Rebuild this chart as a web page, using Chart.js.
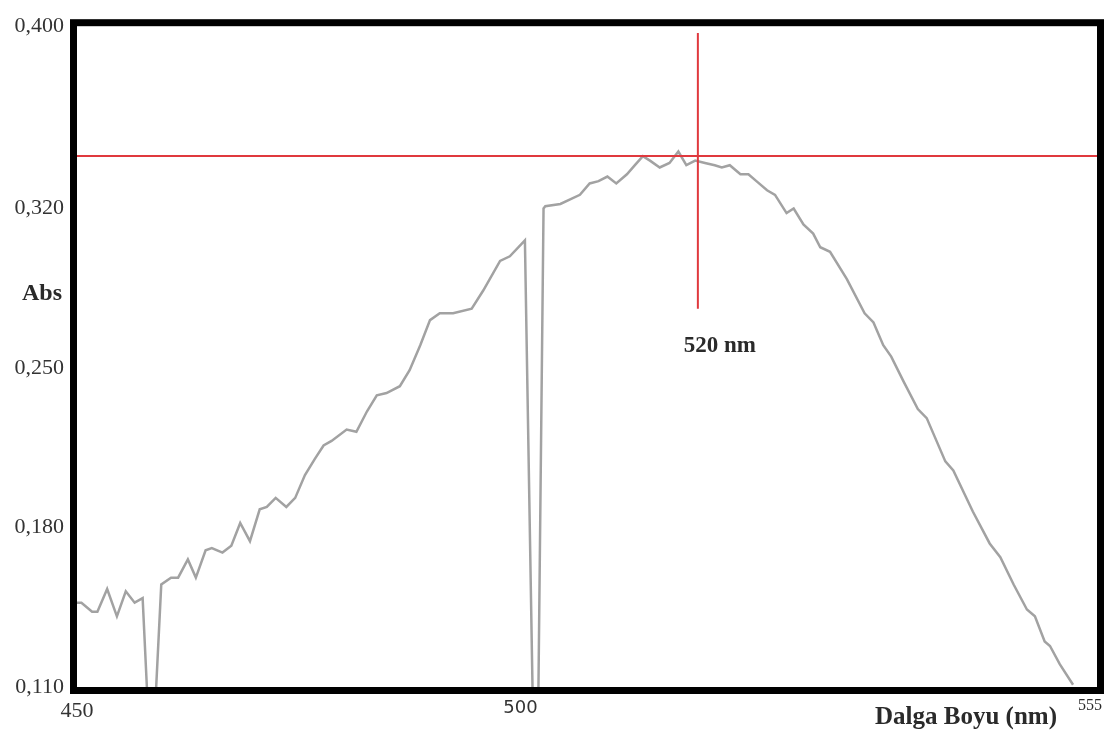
<!DOCTYPE html>
<html lang="tr">
  <head>
    <meta charset="UTF-8" />
    <title>Absorbans spektrumu</title>
    <script src="https://cdn.jsdelivr.net/npm/chart.js"></script>
    <style>
      body {
        margin: 0;
        background: #fff;
      }
      #spectrum {
        display: block;
      }
    </style>
  </head>
  <body>
    <canvas id="spectrum" width="1115" height="742"></canvas>

    <script>
      // Scan data: wavelength (nm) and absorbance
      const wavelengths = [
        450.0, 450.5, 451.7, 452.3, 453.4, 454.5, 455.5, 456.5, 457.4, 458.0,
        458.8, 459.5, 460.6, 461.4, 462.5, 463.4, 464.5, 465.2, 466.4, 467.4,
        468.4, 469.5, 470.6, 471.4, 472.4, 473.6, 474.6, 475.7, 476.8, 477.8,
        478.7, 480.4, 481.5, 482.7, 483.8, 484.9, 486.4, 487.5, 488.7, 489.8,
        490.9, 492.4, 494.5, 495.8, 497.7, 498.8, 500.5, 501.4, 502.0, 502.6,
        502.8, 504.5, 505.6, 506.7, 507.8, 508.8, 509.8, 510.8, 512.0, 512.9,
        513.8, 514.6, 515.7, 516.8, 517.8, 518.7, 519.7, 520.8, 521.9, 522.7,
        523.6, 524.8, 525.7, 526.6, 527.8, 528.7, 530.0, 530.8, 531.9, 533.0,
        533.8, 534.9, 536.8, 538.8, 539.8, 540.9, 541.8, 543.2, 544.8, 545.8,
        547.9, 548.8, 551.0, 552.9, 554.1, 555.6, 557.1, 558.0, 559.1, 559.7,
        560.8, 562.3,
      ];
      const absorbance = [
        0.147, 0.147, 0.143, 0.143, 0.153, 0.141, 0.152, 0.147, 0.149, 0.100,
        0.100, 0.155, 0.158, 0.158, 0.166, 0.158, 0.170, 0.171, 0.169, 0.172,
        0.182, 0.174, 0.188, 0.189, 0.193, 0.189, 0.193, 0.203, 0.210, 0.216,
        0.218, 0.223, 0.222, 0.231, 0.238, 0.239, 0.242, 0.249, 0.260, 0.271,
        0.274, 0.274, 0.276, 0.284, 0.297, 0.299, 0.306, 0.100, 0.100, 0.320,
        0.321, 0.322, 0.324, 0.326, 0.331, 0.332, 0.334, 0.331, 0.335, 0.339,
        0.343, 0.341, 0.338, 0.340, 0.345, 0.339, 0.341, 0.340, 0.339, 0.338,
        0.339, 0.335, 0.335, 0.332, 0.328, 0.326, 0.318, 0.320, 0.313, 0.309,
        0.303, 0.301, 0.289, 0.274, 0.270, 0.260, 0.255, 0.244, 0.232, 0.228,
        0.209, 0.205, 0.187, 0.173, 0.167, 0.155, 0.144, 0.141, 0.130, 0.128,
        0.120, 0.111,
      ];

      // Axis ranges and tick labels
      const xRange = [450, 565];
      const xTickValues = [450, 500];
      const xAxisEndLabel = "555";
      const yRange = [0.11, 0.4];
      const yTickValues = [0.11, 0.18, 0.25, 0.32, 0.4];

      // Peak marker (cross-hair)
      const peakWavelength = 520;
      const peakAbsorbance = 0.343;
      const markerTop = 0.397;
      const markerBottom = 0.276;
      const peakLabel = "520 nm";

      const spectrum = wavelengths.map((w, i) => ({ x: w, y: absorbance[i] }));
      const hLine = [
        { x: xRange[0], y: peakAbsorbance },
        { x: xRange[1], y: peakAbsorbance },
      ];
      const vLine = [
        { x: peakWavelength, y: markerTop },
        { x: peakWavelength, y: markerBottom },
      ];

      const SERIF = "'Liberation Serif', 'Times New Roman', serif";

      // thick black frame plus the free-standing labels
      const framePlugin = {
        id: "frame",
        afterDraw(chart) {
          const { ctx, chartArea: a, scales } = chart;
          ctx.save();
          ctx.strokeStyle = "#000";
          ctx.lineWidth = 7;
          ctx.strokeRect(a.left - 3.5, a.top - 3.5, a.width + 7, a.height + 7);

          ctx.fillStyle = "#2a2a2a";
          ctx.textBaseline = "middle";

          ctx.font = "bold 24px " + SERIF;
          ctx.textAlign = "center";
          ctx.fillText("Abs", 42, 294);

          ctx.font = "bold 23px " + SERIF;
          const px = scales.x.getPixelForValue(peakWavelength);
          const py = scales.y.getPixelForValue(markerBottom);
          ctx.fillText(peakLabel, px + 22, py + 37);

          ctx.font = "bold 25px " + SERIF;
          ctx.textAlign = "right";
          ctx.fillText("Dalga Boyu (nm)", 1057, 718);

          ctx.font = "16px " + SERIF;
          ctx.textAlign = "center";
          ctx.fillText(xAxisEndLabel, 1090, 706);
          ctx.restore();
        },
      };

      new Chart(document.getElementById("spectrum"), {
        type: "line",
        data: {
          datasets: [
            {
              data: hLine,
              borderColor: "#e0393e",
              borderWidth: 2,
              pointRadius: 0,
              order: 0,
            },
            {
              data: vLine,
              borderColor: "#e0393e",
              borderWidth: 2,
              pointRadius: 0,
              order: 0,
            },
            {
              data: spectrum,
              borderColor: "#a2a2a2",
              borderWidth: 2.5,
              pointRadius: 0,
              tension: 0,
              order: 1,
            },
          ],
        },
        options: {
          responsive: false,
          animation: false,
          layout: {
            autoPadding: false,
            padding: { top: 21, right: 18, bottom: 0, left: 0 },
          },
          plugins: {
            legend: { display: false },
            tooltip: { enabled: false },
          },
          scales: {
            x: {
              type: "linear",
              min: xRange[0],
              max: xRange[1],
              grid: { display: false, drawTicks: false },
              border: { display: false },
              afterBuildTicks: (s) => {
                s.ticks = xTickValues.map((v) => ({ value: v }));
              },
              afterFit: (s) => {
                s.height = 55;
              },
              ticks: {
                padding: 11,
                color: "#333",
                maxRotation: 0,
                font: (c) =>
                  c.tick && c.tick.value === 500
                    ? { family: "'DejaVu Sans', sans-serif", size: 18 }
                    : { family: SERIF, size: 22 },
                callback: (v) => String(v),
              },
            },
            y: {
              type: "linear",
              min: yRange[0],
              max: yRange[1],
              grid: { display: false, drawTicks: false },
              border: { display: false },
              afterBuildTicks: (s) => {
                s.ticks = yTickValues.map((v) => ({ value: v }));
              },
              afterFit: (s) => {
                s.width = 77;
              },
              ticks: {
                padding: 13,
                color: "#333",
                font: { family: SERIF, size: 22 },
                callback: (v) => v.toFixed(3).replace(".", ","),
              },
            },
          },
        },
        plugins: [framePlugin],
      });
    </script>
  </body>
</html>
